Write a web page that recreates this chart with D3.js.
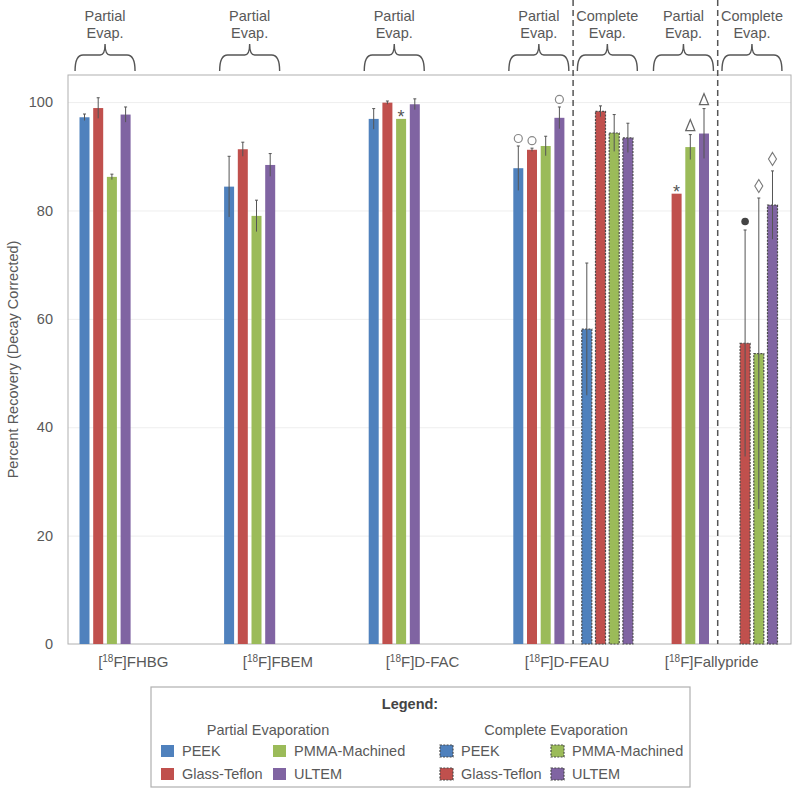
<!DOCTYPE html>
<html>
<head>
<meta charset="utf-8">
<script src="https://cdn.jsdelivr.net/npm/d3@7"></script>
<style>
  body { margin: 0; background: #fff; }
  svg { font-family: "Liberation Sans", Arial, sans-serif; }
</style>
</head>
<body>
<div id="chart"></div>
<script>
// tracers and materials
var categories = ["FHBG", "FBEM", "D-FAC", "D-FEAU", "Fallypride"];
var materials = ["PEEK", "Glass-Teflon", "PMMA-Machined", "ULTEM"];
var colors = ["#4F81BD", "#C0504D", "#9BBB59", "#8064A2"];
var yTicks = [0, 20, 40, 60, 80, 100];

// partial evaporation: mean and error (null = not measured)
var partialMeans = [
  [97.2, 98.9, 86.2, 97.7],
  [84.4, 91.3, 79.0, 88.4],
  [96.9, 99.9, 96.9, 99.6],
  [87.8, 91.2, 91.9, 97.1],
  [null, 83.1, 91.7, 94.2]
];
var partialErr = [
  [0.6, 1.9, 0.5, 1.4],
  [5.6, 1.3, 2.9, 2.1],
  [1.9, 0.3, 0, 1.0],
  [4.1, 0.3, 1.8, 2.0],
  [null, 0, 2.3, 4.6]
];
var partialMarks = [
  [null, null, null, null],
  [null, null, null, null],
  [null, null, "star", null],
  ["circle", "circle", null, "circle"],
  [null, "star", "triangle", "triangle"]
];

// complete evaporation (only D-FEAU and Fallypride)
var completeMeans = [null, null, null, [58.1, 98.3, 94.3, 93.4], [null, 55.5, 53.6, 81.0]];
var completeErr = [null, null, null, [12.2, 1.0, 3.4, 2.7], [null, 20.9, 28.7, 6.3]];
var completeMarks = [null, null, null, [null, null, null, null], [null, "dot", "diamond", "diamond"]];

var W = 800, H = 794;
var pLeft = 68, pRight = 791, pTop = 75, pBottom = 644;
var grey = "#595959";

var svg = d3.select("#chart").append("svg")
    .attr("width", W).attr("height", H);

var y = d3.scaleLinear().domain([0, 105]).range([pBottom, pTop]);
var x0 = d3.scaleBand().domain(categories).range([pLeft, pRight]);
var x1 = d3.scaleBand().domain(d3.range(9)).range([11.5, 131.1]).paddingInner(0.27);

// grid lines
svg.append("g")
    .attr("transform", "translate(" + pLeft + ",0)")
    .call(d3.axisLeft(y).tickValues(yTicks.slice(1)).tickSize(-(pRight - pLeft)).tickFormat(""))
    .call(function(g) { g.select(".domain").remove(); })
    .selectAll("line").attr("stroke", "#eeeeee");

// plot border
svg.append("rect")
    .attr("x", pLeft).attr("y", pTop)
    .attr("width", pRight - pLeft).attr("height", pBottom - pTop)
    .attr("fill", "none").attr("stroke", "#b0b0b0").attr("stroke-width", 1);

// y axis labels
var yAxis = svg.append("g")
    .attr("transform", "translate(" + pLeft + ",0)")
    .call(d3.axisLeft(y).tickValues(yTicks).tickSize(0).tickPadding(15));
yAxis.select(".domain").remove();
yAxis.selectAll("text")
    .attr("fill", grey).style("font-size", "14.5px")
    .style("font-family", "Liberation Sans, Arial, sans-serif");

svg.append("text")
    .attr("transform", "translate(18," + ((pTop + pBottom) / 2) + ") rotate(-90)")
    .attr("text-anchor", "middle")
    .attr("fill", grey).style("font-size", "14.5px")
    .text("Percent Recovery (Decay Corrected)");

// build bar list from the arrays
var bars = [];
categories.forEach(function(c, ci) {
  materials.forEach(function(m, mi) {
    if (partialMeans[ci][mi] != null) {
      bars.push({cat: c, slot: mi, mat: mi, v: partialMeans[ci][mi], e: partialErr[ci][mi],
                 mark: partialMarks[ci][mi], complete: false});
    }
    if (completeMeans[ci] && completeMeans[ci][mi] != null) {
      bars.push({cat: c, slot: 5 + mi, mat: mi, v: completeMeans[ci][mi], e: completeErr[ci][mi],
                 mark: completeMarks[ci][mi], complete: true});
    }
  });
});

function bx(d) { return x0(d.cat) + x1(d.slot); }

svg.append("g").selectAll("rect")
    .data(bars).enter().append("rect")
    .attr("x", function(d) { return bx(d); })
    .attr("y", function(d) { return y(d.v); })
    .attr("width", x1.bandwidth())
    .attr("height", function(d) { return y(0) - y(d.v); })
    .attr("fill", function(d) { return colors[d.mat]; })
    .attr("stroke", function(d) { return d.complete ? "#4a4a4a" : "none"; })
    .attr("stroke-width", 1.2)
    .attr("stroke-dasharray", function(d) { return d.complete ? "2,1.3" : null; });

// error bars
var eb = svg.append("g").selectAll("g")
    .data(bars.filter(function(d) { return d.e > 0; }))
    .enter().append("g");
eb.append("line")
    .attr("x1", function(d) { return bx(d) + x1.bandwidth() / 2; })
    .attr("x2", function(d) { return bx(d) + x1.bandwidth() / 2; })
    .attr("y1", function(d) { return y(d.v + d.e); })
    .attr("y2", function(d) { return y(d.v - d.e); })
    .attr("stroke", "#555").attr("stroke-width", 1);
eb.append("line")
    .attr("x1", function(d) { return bx(d) + x1.bandwidth() / 2 - 1.5; })
    .attr("x2", function(d) { return bx(d) + x1.bandwidth() / 2 + 1.5; })
    .attr("y1", function(d) { return y(d.v + d.e); })
    .attr("y2", function(d) { return y(d.v + d.e); })
    .attr("stroke", "#555").attr("stroke-width", 1);

// significance markers above bars
var marks = svg.append("g");
bars.filter(function(d) { return d.mark; }).forEach(function(d) {
  var cx = bx(d) + x1.bandwidth() / 2;
  var ty = y(d.v + (d.e || 0));
  if (d.mark == "star") {
    marks.append("text").attr("x", cx).attr("y", ty + 4.5)
      .attr("text-anchor", "middle").attr("fill", "#555")
      .style("font-size", "18px").text("*");
  } else if (d.mark == "circle") {
    marks.append("circle").attr("cx", cx).attr("cy", ty - 7.5).attr("r", 4)
      .attr("fill", "#fff").attr("stroke", "#888").attr("stroke-width", 1.2);
  } else if (d.mark == "dot") {
    marks.append("circle").attr("cx", cx).attr("cy", ty - 8.5).attr("r", 3.8)
      .attr("fill", "#444");
  } else if (d.mark == "triangle") {
    var b = ty - 4;
    marks.append("path")
      .attr("d", "M" + (cx - 4.5) + "," + b + "L" + cx + "," + (b - 11) + "L" + (cx + 4.5) + "," + b + "Z")
      .attr("fill", "none").attr("stroke", "#666").attr("stroke-width", 1.3);
  } else if (d.mark == "diamond") {
    var c = ty - 12;
    marks.append("path")
      .attr("d", "M" + cx + "," + (c - 6.5) + "L" + (cx + 4) + "," + c + "L" + cx + "," + (c + 6.5) + "L" + (cx - 4) + "," + c + "Z")
      .attr("fill", "none").attr("stroke", "#777").attr("stroke-width", 1.1);
  }
});

// separators between partial / complete groups
categories.forEach(function(c, ci) {
  if (!completeMeans[ci]) return;
  var sx = x0(c) + x1(4) + x1.bandwidth() / 2;
  svg.append("line")
    .attr("x1", sx).attr("x2", sx).attr("y1", 0).attr("y2", pBottom)
    .attr("stroke", "#555").attr("stroke-width", 1.5)
    .attr("stroke-dasharray", "6,4");
});

// braces with labels on top
function brace(cx, l1, l2) {
  var xa = cx - 30, xb = cx + 30, yb = 71, yl = 55, yp = 44;
  var p = "M" + xa + "," + yb + "Q" + xa + "," + yl + " " + (xa + 8) + "," + yl +
          "L" + (cx - 5) + "," + yl + "Q" + cx + "," + yl + " " + cx + "," + yp +
          "Q" + cx + "," + yl + " " + (cx + 5) + "," + yl +
          "L" + (xb - 8) + "," + yl + "Q" + xb + "," + yl + " " + xb + "," + yb;
  svg.append("path").attr("d", p).attr("fill", "none")
    .attr("stroke", "#555").attr("stroke-width", 1.4);
  svg.append("text").attr("x", cx).attr("y", 20.5).attr("text-anchor", "middle")
    .attr("fill", grey).style("font-size", "14.5px").text(l1);
  svg.append("text").attr("x", cx).attr("y", 37.5).attr("text-anchor", "middle")
    .attr("fill", grey).style("font-size", "14.5px").text(l2);
}
categories.forEach(function(c, ci) {
  var pc = x0(c) + (x1(0) + x1(3) + x1.bandwidth()) / 2;
  brace(pc, "Partial", "Evap.");
  if (completeMeans[ci]) {
    var cc = x0(c) + (x1(5) + x1(8) + x1.bandwidth()) / 2;
    brace(cc, "Complete", "Evap.");
  }
});

// x axis labels with superscript
categories.forEach(function(c) {
  var t = svg.append("text")
    .attr("x", x0(c) + x0.bandwidth() / 2 - 7).attr("y", 667)
    .attr("text-anchor", "middle").attr("fill", grey)
    .style("font-size", "15px");
  t.append("tspan").text("[");
  t.append("tspan").attr("dy", -5).style("font-size", "10px").text("18");
  t.append("tspan").attr("dy", 5).text("F]" + c);
});

// legend
var lg = svg.append("g");
lg.append("rect").attr("x", 151).attr("y", 687).attr("width", 539).attr("height", 100)
  .attr("fill", "#fff").attr("stroke", "#b0b0b0").attr("stroke-width", 1.2);
lg.append("text").attr("x", 410).attr("y", 709).attr("text-anchor", "middle")
  .attr("fill", "#444").style("font-size", "14.5px").style("font-weight", "bold").text("Legend:");
lg.append("text").attr("x", 268).attr("y", 735).attr("text-anchor", "middle")
  .attr("fill", grey).style("font-size", "14.5px").text("Partial Evaporation");
lg.append("text").attr("x", 556).attr("y", 735).attr("text-anchor", "middle")
  .attr("fill", grey).style("font-size", "14.5px").text("Complete Evaporation");

var legendCols = [161, 273, 440, 551];
var legendRows = [745, 768];
materials.forEach(function(m, mi) {
  var row = mi % 2, col = Math.floor(mi / 2);
  [0, 1].forEach(function(k) {
    var sx = legendCols[k * 2 + col], sy = legendRows[row];
    lg.append("rect").attr("x", sx).attr("y", sy).attr("width", 13).attr("height", 12)
      .attr("fill", colors[mi])
      .attr("stroke", k ? "#4a4a4a" : "none").attr("stroke-width", 1.2)
      .attr("stroke-dasharray", k ? "2,1.3" : null);
    lg.append("text").attr("x", sx + 21).attr("y", sy + 11)
      .attr("fill", grey).style("font-size", "14.5px").text(m);
  });
});
</script>
</body>
</html>
